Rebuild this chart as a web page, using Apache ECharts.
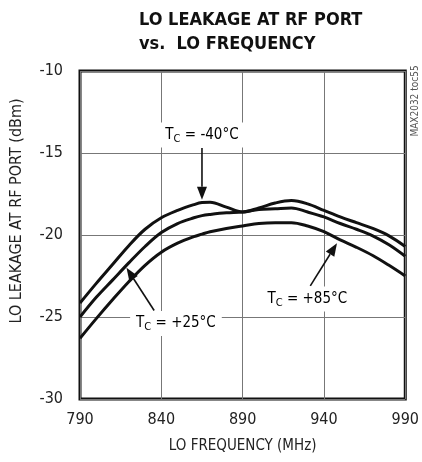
<!DOCTYPE html>
<html>
<head>
<meta charset="utf-8">
<script src="https://cdn.jsdelivr.net/npm/echarts@6/dist/echarts.min.js"></script>
<style>
  html, body { margin: 0; padding: 0; background: #fff; }
  #main { width: 422px; height: 462px; }
</style>
</head>
<body>
<div id="main"></div>
<script>
// LO frequency (MHz)
const freq = [790, 800, 810, 820, 830, 840, 850, 860, 865, 870, 880, 890, 900, 910, 920, 930, 940, 950, 960, 970, 980, 990]
// LO leakage (dBm) per case temperature
const tcMinus40 = [-24.15, -22.95, -21.8, -20.65, -19.65, -18.95, -18.5, -18.15, -18.02, -18.0, -18.3, -18.6, -18.35, -18.05, -17.9, -18.1, -18.5, -18.9, -19.25, -19.6, -20.05, -20.7]
const tcPlus25 = [-25.0, -23.8, -22.75, -21.7, -20.7, -19.85, -19.3, -18.95, -18.82, -18.75, -18.65, -18.6, -18.45, -18.4, -18.35, -18.6, -18.9, -19.3, -19.65, -20.05, -20.6, -21.3]
const tcPlus85 = [-26.3, -25.1, -23.95, -22.85, -21.85, -21.05, -20.5, -20.1, -19.95, -19.8, -19.6, -19.45, -19.3, -19.25, -19.25, -19.45, -19.8, -20.3, -20.75, -21.25, -21.85, -22.5]

const xTicks = [790, 840, 890, 940, 990]
const yTicks = [-30, -25, -20, -15, -10]

const narrow = '"Liberation Sans Narrow", "DejaVu Sans Condensed", sans-serif'

function toPairs (ys) {
  return freq.map((f, i) => [f, ys[i]])
}

function curve (name, ys) {
  return {
    name: name,
    type: 'line',
    data: toPairs(ys),
    smooth: 0.35,
    showSymbol: false,
    lineStyle: { color: '#111', width: 3 },
    z: 5
  }
}

const chart = echarts.init(document.getElementById('main'))

chart.setOption({
  animation: false,
  title: {
    text: 'LO LEAKAGE AT RF PORT\nvs.  LO FREQUENCY',
    left: 134,
    top: 3,
    textStyle: {
      fontFamily: narrow,
      fontWeight: 'bold',
      fontSize: 18,
      lineHeight: 24,
      color: '#111'
    }
  },
  grid: {
    left: 80,
    right: 13,
    top: 71,
    bottom: 63,
    show: true,
    borderColor: '#111',
    borderWidth: 3
  },
  xAxis: {
    type: 'value',
    min: xTicks[0],
    max: xTicks[xTicks.length - 1],
    interval: 50,
    name: 'LO FREQUENCY (MHz)',
    nameLocation: 'middle',
    nameGap: 40,
    nameTextStyle: { fontFamily: narrow, fontSize: 15, color: '#222' },
    axisLine: { show: false },
    axisTick: { show: false },
    axisLabel: { fontFamily: narrow, fontSize: 16, color: '#222', margin: 13 },
    splitLine: { lineStyle: { color: '#777', width: 1 } }
  },
  yAxis: {
    type: 'value',
    min: yTicks[0],
    max: yTicks[yTicks.length - 1],
    interval: 5,
    axisLine: { show: false },
    axisTick: { show: false },
    axisLabel: { fontFamily: narrow, fontSize: 16, color: '#222', margin: 17 },
    splitLine: { lineStyle: { color: '#777', width: 1 } }
  },
  series: [
    curve('TC = -40°C', tcMinus40),
    curve('TC = +25°C', tcPlus25),
    curve('TC = +85°C', tcPlus85)
  ]
})

// annotations, anchored in data coordinates
const notes = [
  { temp: ' = -40°C', at: [865, -13.9], from: [865, -14.7], to: [865, -17.85] },
  { temp: ' = +25°C', at: [849, -25.4], from: [835.6, -24.6], to: [818.6, -22.0] },
  { temp: ' = +85°C', at: [929.8, -23.9], from: [931.6, -23.1], to: [948, -20.5] }
]

function px (p) {
  return chart.convertToPixel({ gridIndex: 0 }, p)
}

const graphics = []
notes.forEach(n => {
  const a = px(n.from)
  const b = px(n.to)
  const c = px(n.at)
  const dx = b[0] - a[0]
  const dy = b[1] - a[1]
  const len = Math.sqrt(dx * dx + dy * dy)
  const ux = dx / len
  const uy = dy / len
  const head = 13
  const half = 5
  const bx = b[0] - ux * head
  const by = b[1] - uy * head
  graphics.push({
    type: 'line',
    z: 50,
    shape: { x1: a[0], y1: a[1], x2: bx, y2: by },
    style: { stroke: '#111', lineWidth: 1.6 }
  })
  graphics.push({
    type: 'polygon',
    z: 50,
    shape: { points: [[b[0], b[1]], [bx - uy * half, by + ux * half], [bx + uy * half, by - ux * half]] },
    style: { fill: '#111' }
  })
  graphics.push({
    type: 'text',
    z: 60,
    x: c[0],
    y: c[1],
    style: {
      text: '{t|T}{s|C}{t|' + n.temp + '}',
      align: 'center',
      verticalAlign: 'middle',
      backgroundColor: '#fff',
      padding: [3, 6, 3, 6],
      rich: {
        t: { fontFamily: narrow, fontSize: 15, color: '#222' },
        s: { fontFamily: narrow, fontSize: 11, color: '#222', padding: [8, 0, 0, 0] }
      }
    }
  })
})

// y axis title and part number
graphics.push({
  type: 'text',
  z: 60,
  x: 17,
  y: 211,
  rotation: Math.PI / 2,
  style: {
    text: 'LO LEAKAGE AT RF PORT (dBm)',
    align: 'center',
    verticalAlign: 'middle',
    fontFamily: narrow,
    fontSize: 16,
    fill: '#222'
  }
})
graphics.push({
  type: 'text',
  z: 60,
  x: 415,
  y: 101,
  rotation: Math.PI / 2,
  style: {
    text: 'MAX2032 toc55',
    align: 'center',
    verticalAlign: 'middle',
    fontFamily: narrow,
    fontSize: 10,
    fill: '#555'
  }
})

chart.setOption({ graphic: graphics })
</script>
</body>
</html>
